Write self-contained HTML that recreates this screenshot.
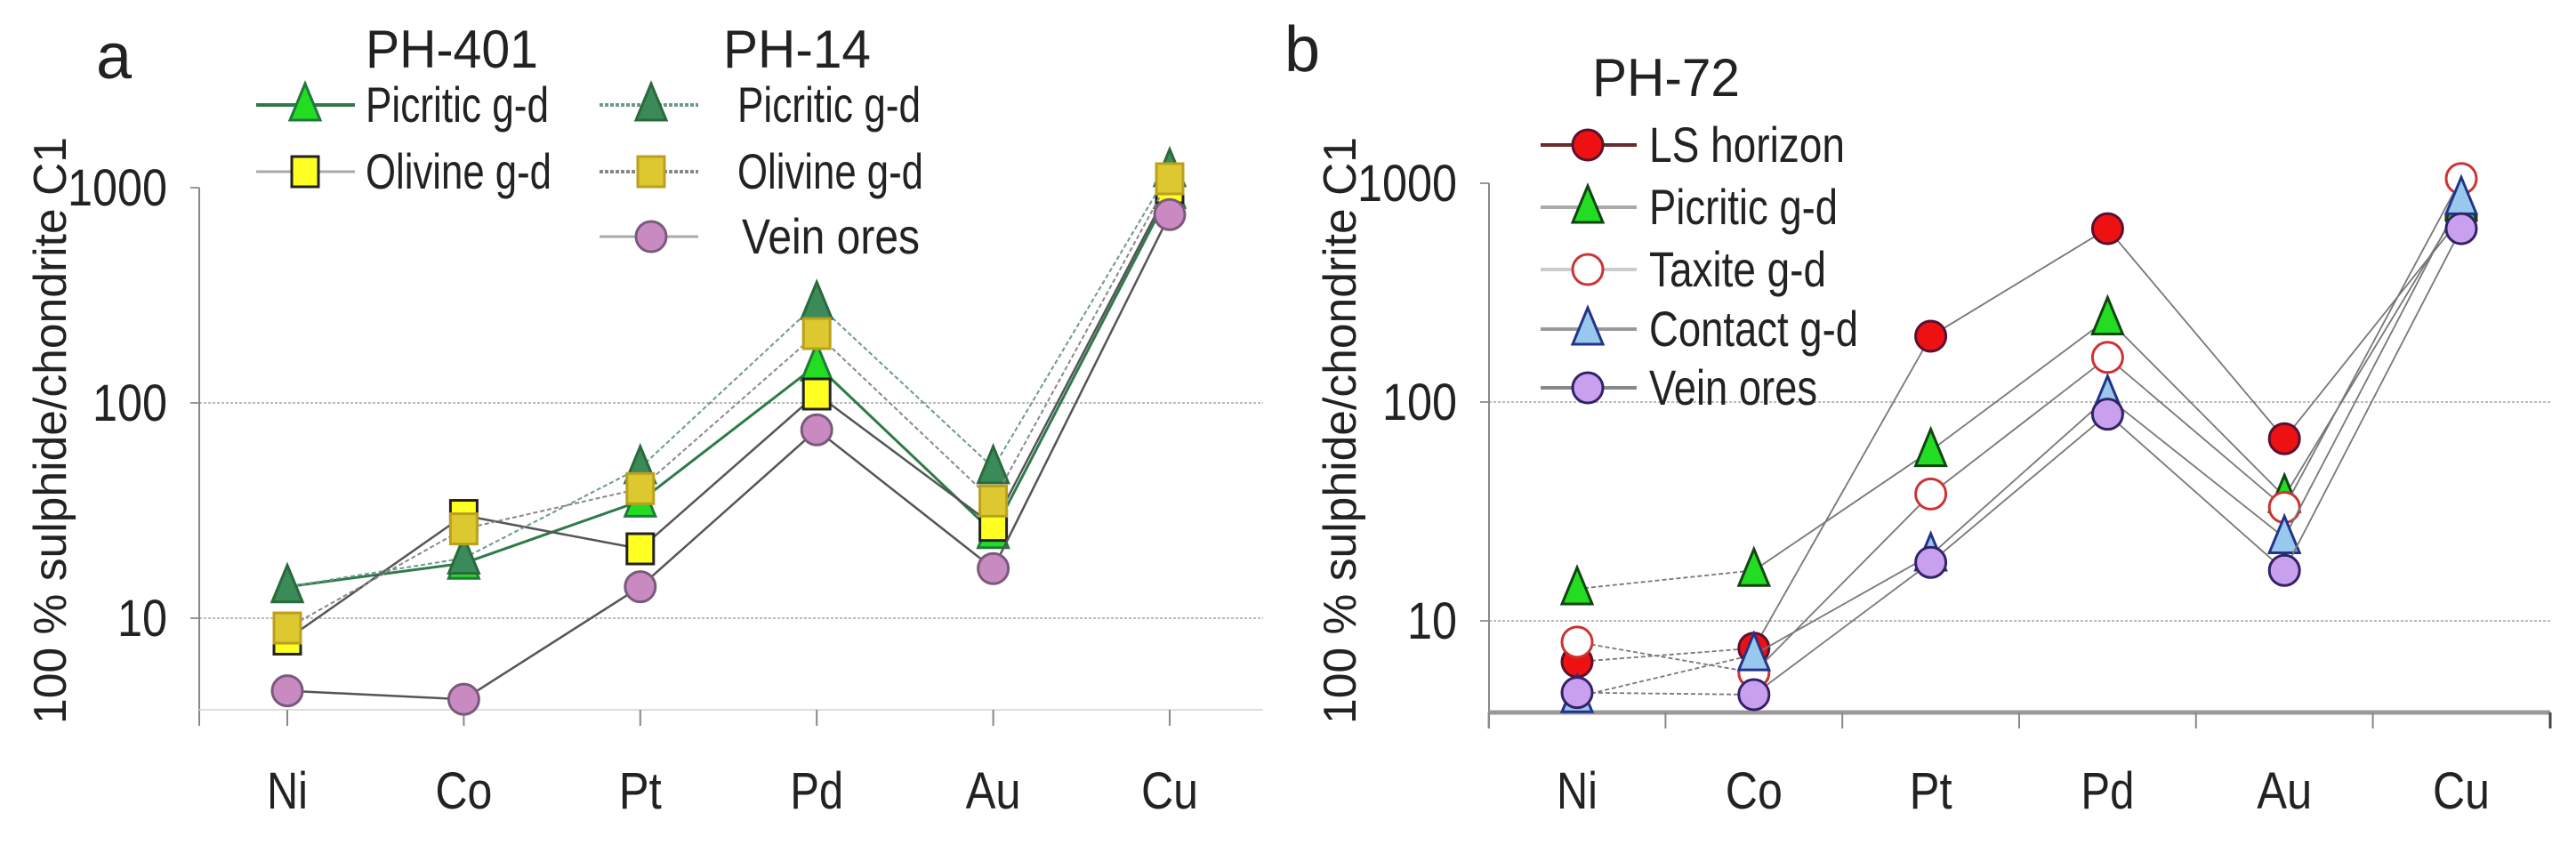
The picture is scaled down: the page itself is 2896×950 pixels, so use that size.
<!DOCTYPE html>
<html><head><meta charset="utf-8"><style>
html,body{margin:0;padding:0;background:#fff}
svg{display:block}
text{font-family:"Liberation Sans",Arial,sans-serif;fill:#222}
</style></head><body>
<svg id="chart" width="2896" height="950" viewBox="0 0 2896 950" xmlns="http://www.w3.org/2000/svg">
<g id="pa"></g>
<g id="pb"></g>
</svg>
<script>
const categories = ["Ni","Co","Pt","Pd","Au","Cu"];
const yTicks = [10,100,1000];
const yTickLabels = ["10","100","1000"];
// panel a
const a_ph401_picritic = [14,18,35,150,25,950];
const a_ph401_olivine = [8,30,21,110,27,1000];
const a_ph14_picritic = [14,19,50,290,50,1200];
const a_ph14_olivine = [9,26,40,210,35,1100];
const a_ph14_vein = [4.6,4.2,14,75,17,750];
// panel b
const b_ls = [6.5,7.5,200,620,68,700];
const b_picritic = [14,17,60,240,37,800];
const b_taxite = [8,5.8,38,160,33,1050];
const b_contact = [4.5,7,20,105,24,850];
const b_vein = [4.7,4.6,18.5,88,17,620];

const catLabelW = {Ni:46,Co:64,Pt:48,Pd:60,Au:62,Cu:64};

const NS="http://www.w3.org/2000/svg";
function mk(parent,tag,attrs,txt){const e=document.createElementNS(NS,tag);for(const k in attrs)e.setAttribute(k,attrs[k]);if(txt!=null)e.textContent=txt;parent.appendChild(e);return e;}

function marker(g,type,x,y,fill,stroke,name){
  let e;
  if(type==="tri"){e=mk(g,"polygon",{points:`${x},${y-24} ${x-17},${y+17} ${x+17},${y+17}`,fill:fill,stroke:stroke,"stroke-width":3});}
  else if(type==="sq"){e=mk(g,"rect",{x:x-15,y:y-17,width:30,height:34,fill:fill,stroke:stroke,"stroke-width":3});}
  else {e=mk(g,"ellipse",{cx:x,cy:y,rx:17,ry:17,fill:fill,stroke:stroke,"stroke-width":3});}
  
  
  return e;
}

function panel(g,o){
  const xs=i=>o.x0+i*o.dx;
  const ys=v=>o.y100-o.dec*Math.log10(v/100);
  yTicks.forEach((t,i)=>{
    if(t<1000){const l=mk(g,"line",{x1:o.ax,x2:o.xEnd,y1:ys(t),y2:ys(t),stroke:"#bbb","stroke-width":2,"stroke-dasharray":"3,2"});
    
    }
    const tk=mk(g,"line",{x1:o.ax-10,x2:o.ax,y1:ys(t),y2:ys(t),stroke:"#999","stroke-width":2});
    
    
    const tl=mk(g,"text",{x:o.ax-36,y:ys(t)+20,"text-anchor":"end","font-size":58,textLength:yTickLabels[i].length*28,lengthAdjust:"spacingAndGlyphs"},yTickLabels[i]);
    
    
  });
  const ya=mk(g,"line",{x1:o.ax,x2:o.ax,y1:ys(1000),y2:o.axB+18,stroke:"#888","stroke-width":2});
  
  
  const xa=mk(g,"line",{x1:o.ax,x2:o.xEnd,y1:o.axB,y2:o.axB,stroke:o.xaCol,"stroke-width":o.xaW});
  
  
  categories.forEach((c,i)=>{
    const tx=o.tickBetween?xs(i)-o.dx/2:xs(i);
    const tk=mk(g,"line",{x1:tx,x2:tx,y1:o.axB,y2:o.axB+18,stroke:"#888","stroke-width":2});
    
    
    const t=mk(g,"text",{x:xs(i),y:909,"text-anchor":"middle","font-size":58,textLength:catLabelW[c]||c.length*30,lengthAdjust:"spacingAndGlyphs"},c);
    
    
  });
  if(o.tickBetween){const tx=o.xEnd;const tk=mk(g,"line",{x1:tx,x2:tx,y1:o.axB,y2:o.axB+18,stroke:"#444","stroke-width":3});}
  const yt=mk(g,"text",{x:0,y:0,"text-anchor":"middle","font-size":52,textLength:660,lengthAdjust:"spacingAndGlyphs",transform:`translate(${o.ax-150},484) rotate(-90)`},"100 % sulphide/chondrite C1");
  
  
  o.series.forEach(s=>{
    const sg=mk(g,"g",{});
    
    
    for(let i=0;i<s.v.length-1;i++){
      const l=mk(sg,"line",{x1:xs(i),y1:ys(s.v[i]),x2:xs(i+1),y2:ys(s.v[i+1]),stroke:s.line,"stroke-width":s.lw||2,"stroke-dasharray":(s.dash||(o.dashFirst&&i===0))?"5,3":"none"});
      
      
    }
    s.v.forEach((v,i)=>marker(sg,s.m,xs(i),ys(v),s.fill,s.stroke,s.name+'-'+categories[i]));
  });
}

function legendRow(g,x1,x2,mx,tx,y,s,label,w){
  const lg=mk(g,"g",{});
  
  
  const l=mk(lg,"line",{x1:x1,x2:x2,y1:y,y2:y,stroke:s.line,"stroke-width":s.legW||4,"stroke-dasharray":s.dash?"4,2":"none"});
  
  
  marker(lg,s.m,mx,y,s.fill,s.stroke,'legend-marker');
  const t=mk(lg,"text",{x:tx,y:y+19,"font-size":56,textLength:w,lengthAdjust:"spacingAndGlyphs"},label);
  
  
}

// Panel A
const ga=document.getElementById("pa");
const sa=[
 {name:"ph401-picritic",v:a_ph401_picritic,m:"tri",fill:"#22dd22",stroke:"#1f7a3a",line:"#2e7a4a",lw:3},
 {name:"ph401-olivine",v:a_ph401_olivine,m:"sq",fill:"#ffff22",stroke:"#222",line:"#555",lw:2.5},
 {name:"ph14-picritic",v:a_ph14_picritic,m:"tri",fill:"#3a8a5a",stroke:"#2a6a3a",line:"#6a9a8a",dash:true},
 {name:"ph14-olivine",v:a_ph14_olivine,m:"sq",fill:"#ddc830",stroke:"#bba020",line:"#888",dash:true},
 {name:"vein-ores",v:a_ph14_vein,m:"circ",fill:"#c88ac0",stroke:"#7a5a7a",line:"#555",lw:2.5}
];
panel(ga,{x0:323,dx:198.4,y100:453,dec:242,ax:224,axB:798,xEnd:1420,xaCol:"#ddd",xaW:2,series:sa});
let t=mk(ga,"text",{x:108,y:88,"font-size":72},"a");
t=mk(ga,"text",{x:411,y:76,"font-size":60,textLength:194,lengthAdjust:"spacingAndGlyphs"},"PH-401");
t=mk(ga,"text",{x:813,y:76,"font-size":60,textLength:166,lengthAdjust:"spacingAndGlyphs"},"PH-14");
legendRow(ga,288,399,343,411,118,sa[0],"Picritic g-d",206);
legendRow(ga,288,399,343,411,193,{...sa[1],legW:3,line:"#aaa"},"Olivine g-d",209);
legendRow(ga,674,785,732,829,118,sa[2],"Picritic g-d",206);
legendRow(ga,674,785,732,829,193,sa[3],"Olivine g-d",209);
legendRow(ga,674,785,732,834,266,{...sa[4],legW:3,line:"#aaa"},"Vein ores",200);

// Panel B
const gb=document.getElementById("pb");
const sb=[
 {name:"ls-horizon",v:b_ls,m:"circ",fill:"#ee1111",stroke:"#5a1030",line:"#777",lw:1.8},
 {name:"picritic",v:b_picritic,m:"tri",fill:"#22dd22",stroke:"#114411",line:"#777",lw:1.8},
 {name:"taxite",v:b_taxite,m:"circ",fill:"#fff",stroke:"#cc3333",line:"#777",lw:1.8},
 {name:"contact",v:b_contact,m:"tri",fill:"#99c8ee",stroke:"#223388",line:"#777",lw:1.8},
 {name:"vein-ores",v:b_vein,m:"circ",fill:"#c8a0ee",stroke:"#332266",line:"#777",lw:1.8}
];
panel(gb,{x0:1773,dx:198.8,y100:452,dec:246,ax:1674,axB:801,xEnd:2867,xaCol:"#999",xaW:5,tickBetween:true,dashFirst:true,series:sb});
t=mk(gb,"text",{x:1444,y:80,"font-size":72},"b");
t=mk(gb,"text",{x:1790,y:108,"font-size":60,textLength:166,lengthAdjust:"spacingAndGlyphs"},"PH-72");
const bl=["LS horizon","Picritic g-d","Taxite g-d","Contact g-d","Vein ores"];
const bw=[220,212,199,235,189];
const by=[163,233,303,370,436];
const blc=["#6a2a2a","#aaa","#ccc","#999","#888"];
sb.forEach((s,i)=>legendRow(gb,1732,1840,1785,1854,by[i],{...s,line:blc[i],legW:4},bl[i],bw[i]));
</script>
</body></html>
